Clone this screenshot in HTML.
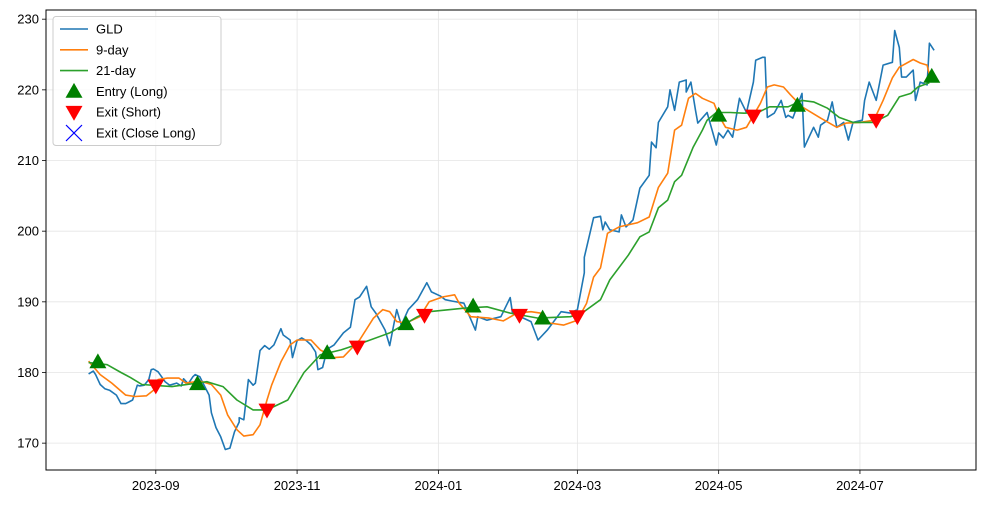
<!DOCTYPE html>
<html><head><meta charset="utf-8"><style>
html,body{margin:0;padding:0;background:#fff;}
svg{display:block;font-family:"Liberation Sans","DejaVu Sans",sans-serif;}
</style></head><body>
<svg id="chart" width="986" height="505" viewBox="0 0 986 505">
<g id="grid"></g>
<g id="series"></g>
<g id="markers"></g>
<rect x="46" y="10" width="930" height="460" fill="none" stroke="#000" stroke-width="1"/>
<g id="axes"></g>
<g id="legend"></g>
</svg>
<script>
// Days since 2023-08-01
const gldDays=[2,4,5,7,9,11,14,16,18,21,22,23,24,26,28,29,30,32,35,37,40,42,43,45,47,48,50,52,54,55,57,59,61,63,65,67,67,69,71,73,74,76,78,80,82,85,86,89,90,92,94,96,98,100,101,103,105,108,112,115,117,119,122,124,126,130,132,135,137,140,142,144,148,150,154,156,159,164,169,170,174,180,184,185,193,196,200,206,210,213,216,216,220,223,224,225,227,231,232,234,237,240,244,245,247,248,252,253,255,257,260,260,262,264,265,269,273,274,276,278,280,283,286,289,290,293,294,295,298,301,303,304,306,310,311,315,317,318,321,323,325,328,330,332,336,337,339,342,345,349,350,352,353,355,358,359,361,364,365,367];
const gldVals=[179.8,180.2,179.7,178.3,177.7,177.5,176.8,175.6,175.6,176.1,177.1,178.2,178.1,178.2,179.0,180.4,180.5,180.1,178.7,178.2,178.5,178.1,179.1,178.4,179.4,179.7,179.4,178.1,176.8,174.3,172.2,170.9,169.1,169.3,171.6,173.0,173.6,173.3,179.0,178.2,178.5,183.1,183.8,183.3,183.9,186.2,185.3,184.6,182.1,184.5,184.9,184.5,183.9,182.9,180.4,180.7,183.3,183.9,185.6,186.4,190.3,190.7,192.2,189.3,188.4,186.0,183.8,188.9,186.7,188.9,189.6,190.3,192.7,191.4,190.8,190.3,190.1,189.8,186.0,187.9,187.4,187.9,190.6,188.4,187.2,184.6,186.0,188.6,188.4,188.9,194.1,196.3,201.9,202.1,200.2,201.3,200.2,199.9,202.3,200.6,201.6,206.1,207.9,212.6,211.8,215.4,217.6,220.0,217.1,221.1,221.4,219.7,221.1,217.1,215.3,216.8,212.2,213.9,213.2,214.3,213.3,218.8,216.8,221.1,224.2,224.6,224.6,216.1,216.7,218.5,216.1,216.4,216.0,219.5,211.9,214.7,213.3,215.0,215.7,218.3,214.7,215.4,212.9,215.4,215.7,218.5,221.1,218.5,223.5,223.9,228.4,226.0,221.8,221.8,222.8,218.5,221.1,220.7,226.6,225.6];
const ma9Days=[2,7,12,18,22,27,30,32,36,41,44,50,55,59,62,66,69,73,76,79,81,85,89,92,98,102,108,112,119,125,129,132,135,139,145,149,155,160,162,167,175,181,187,193,197,201,207,213,217,220,223,226,231,239,244,248,252,255,258,261,264,267,272,274,277,282,286,292,295,298,302,305,310,318,325,329,335,341,345,349,352,358,361,364,365];
const ma9Vals=[181.6,179.7,178.5,176.8,176.6,176.7,177.5,179.0,179.2,179.2,178.5,178.8,178.3,176.8,174.0,171.9,171.0,171.2,172.6,176.1,178.2,181.5,183.9,184.6,184.6,183.2,182.1,182.2,184.6,187.7,188.9,188.6,187.2,187.0,187.9,190.0,190.7,191.0,189.8,187.9,187.7,187.3,188.4,188.6,188.4,187.0,186.7,187.4,189.8,193.5,194.8,199.7,200.6,201.2,202.0,206.2,208.2,214.3,215.0,218.8,219.5,218.8,218.1,216.4,214.7,214.3,214.7,218.1,220.4,220.7,220.4,219.3,217.6,216.0,214.7,215.3,215.4,215.7,218.5,221.7,223.2,224.3,223.8,223.5,222.1];
const ma21Days=[2,10,16,20,25,38,53,60,66,73,79,88,95,102,111,121,132,144,149,164,174,184,196,210,215,223,227,235,240,244,248,252,255,258,263,267,269,273,279,285,291,296,304,310,315,321,326,332,341,347,352,357,360,365];
const ma21Vals=[181.4,181.1,180.0,179.3,178.3,178.0,178.7,178.0,176.1,174.7,174.7,176.1,180.0,182.5,183.2,184.3,185.6,187.9,188.6,189.1,189.3,188.4,187.7,187.9,188.4,190.3,193.1,196.6,199.2,199.9,203.3,204.4,207.0,207.9,211.9,214.3,215.7,216.8,216.8,216.7,216.8,217.6,217.6,218.5,218.3,217.4,216.1,215.4,215.4,216.4,219.0,219.5,220.4,221.0];
const entryDays=[6,49,105,139,168,198,274,308,366];
const entryVals=[181.5,178.4,182.8,186.9,189.4,187.7,216.4,217.8,221.9];
const exitDays=[31,79,118,147,188,213,289,342];
const exitVals=[178.1,174.7,183.6,188.1,188.1,187.9,216.3,215.7];
const yTicks=[170,180,190,200,210,220,230];
const xTickDays=[31,92,153,213,274,335];
const xTickLabels=["2023-09","2023-11","2024-01","2024-03","2024-05","2024-07"];

const NS="http://www.w3.org/2000/svg";
const L=46,R=976,T=10,B=470;
const xMin=-16.4,xMax=385.1,yMin=166.2,yMax=231.3;
const xs=d=>L+(d-xMin)/(xMax-xMin)*(R-L);
const ys=v=>B-(v-yMin)/(yMax-yMin)*(B-T);
function mk(tag,attrs,parent){const e=document.createElementNS(NS,tag);for(const k in attrs)e.setAttribute(k,attrs[k]);parent.appendChild(e);return e;}
const grid=document.getElementById('grid'),axes=document.getElementById('axes');
yTicks.forEach(v=>{
  const y=ys(v);
  const g=mk('line',{x1:L,x2:R,y1:y,y2:y,stroke:'#e5e5e5','stroke-width':0.8},grid);
  
  
  const t=mk('line',{x1:L-4,x2:L,y1:y,y2:y,stroke:'#000','stroke-width':0.8},axes);
  
  
  const lb=mk('text',{x:L-7,y:y+4.5,'text-anchor':'end','font-size':13,fill:'#000'},axes);
  lb.textContent=v;
  
  
});
xTickDays.forEach((d,i)=>{
  const x=xs(d);
  const g=mk('line',{x1:x,x2:x,y1:T,y2:B,stroke:'#e5e5e5','stroke-width':0.8},grid);
  
  
  const t=mk('line',{x1:x,x2:x,y1:B,y2:B+4,stroke:'#000','stroke-width':0.8},axes);
  
  
  const lb=mk('text',{x:x,y:B+20,'text-anchor':'middle','font-size':13,fill:'#000'},axes);
  lb.textContent=xTickLabels[i];
  
  
});
const series=document.getElementById('series');
function line(days,vals,color,name){
  const p=mk('polyline',{points:days.map((d,i)=>xs(d).toFixed(1)+','+ys(vals[i]).toFixed(1)).join(' '),fill:'none',stroke:color,'stroke-width':1.6,'stroke-linejoin':'round'},series);
  
  
}
line(gldDays,gldVals,'#1f77b4','gld-line');
line(ma9Days,ma9Vals,'#ff7f0e','ma-9-day-line');
line(ma21Days,ma21Vals,'#2ca02c','ma-21-day-line');
const markers=document.getElementById('markers');
function tri(x,y,up,color,parent){
  const s=8.5;
  const pts=up?[[x,y-s],[x-s,y+s*0.75],[x+s,y+s*0.75]]:[[x,y+s],[x-s,y-s*0.75],[x+s,y-s*0.75]];
  return mk('polygon',{points:pts.map(p=>p.join(',')).join(' '),fill:color},parent);
}
entryDays.forEach((d,i)=>{
  const m=tri(xs(d),ys(entryVals[i]),true,'#008000',markers);
  
  
});
exitDays.forEach((d,i)=>{
  const m=tri(xs(d),ys(exitVals[i]),false,'#ff0000',markers);
  
  
});
// legend
const lg=document.getElementById('legend');
const box=mk('rect',{x:53,y:16.5,width:168,height:129,rx:3,fill:'#fff','fill-opacity':0.8,stroke:'#ccc','stroke-width':1},lg);


const items=[['GLD','line','#1f77b4'],['9-day','line','#ff7f0e'],['21-day','line','#2ca02c'],['Entry (Long)','up','#008000'],['Exit (Short)','down','#ff0000'],['Exit (Close Long)','x','#0000ff']];
items.forEach((it,i)=>{
  const y=29+i*20.8;
  let m;
  if(it[1]==='line'){m=mk('line',{x1:60,x2:88,y1:y,y2:y,stroke:it[2],'stroke-width':1.6},lg);}
  else if(it[1]==='up'){m=tri(74,y,true,it[2],lg);}
  else if(it[1]==='down'){m=tri(74,y,false,it[2],lg);}
  else{m=mk('path',{d:`M66,${y-8}L82,${y+8}M82,${y-8}L66,${y+8}`,stroke:it[2],'stroke-width':1.2},lg);}
  
  
  const t=mk('text',{x:96,y:y+4.5,'font-size':13,fill:'#000'},lg);
  t.textContent=it[0];
  
  
});
</script>
</body></html>
